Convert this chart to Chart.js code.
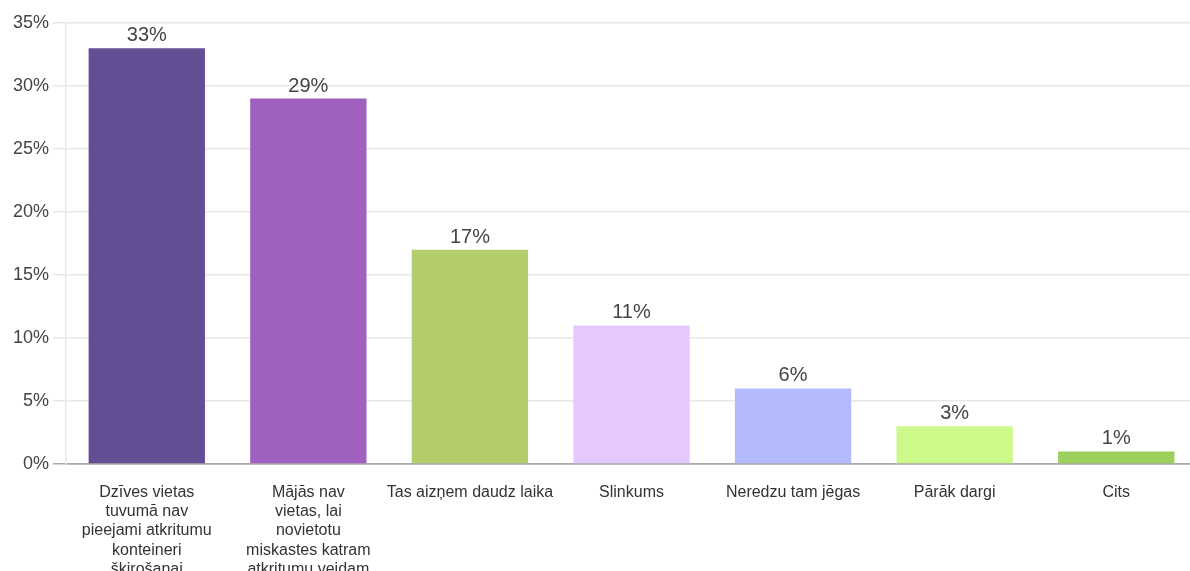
<!DOCTYPE html>
<html>
<head>
<meta charset="utf-8">
<script src="https://cdn.jsdelivr.net/npm/chart.js@4"></script>
<style>
  html, body { margin: 0; padding: 0; background: #fff; overflow: hidden; }
  #wrap { width: 1200px; height: 620px; }
</style>
</head>
<body>
<div id="wrap"><canvas id="myChart" width="1200" height="620"></canvas></div>
<script>
var categories = [
    ['Dzīves vietas', 'tuvumā nav', 'pieejami atkritumu', 'konteineri', 'šķirošanai'],
    ['Mājās nav', 'vietas, lai', 'novietotu', 'miskastes katram', 'atkritumu veidam'],
    'Tas aizņem daudz laika',
    'Slinkums',
    'Neredzu tam jēgas',
    'Pārāk dargi',
    'Cits'
];
var values = [33, 29, 17, 11, 6, 3, 1];
var barColors = ['#634e94', '#a060c0', '#b3cd6c', '#e5c8fd', '#b3bbfd', '#cdf88a', '#9ccf5b'];
var yTicks = [0, 5, 10, 15, 20, 25, 30, 35];

Chart.defaults.font.family = '"Liberation Sans", Arial, sans-serif';
Chart.defaults.color = '#444';

// percentage labels above each bar
var valueLabels = {
    id: 'valueLabels',
    afterDatasetsDraw: function (chart) {
        var ctx = chart.ctx;
        var meta = chart.getDatasetMeta(0);
        ctx.save();
        ctx.font = '20px "Liberation Sans", Arial, sans-serif';
        ctx.fillStyle = '#444';
        ctx.textAlign = 'center';
        ctx.textBaseline = 'alphabetic';
        meta.data.forEach(function (bar, i) {
            ctx.fillText(values[i] + '%', bar.x, bar.y - 7);
        });
        ctx.restore();
    }
};

var ctx = document.getElementById('myChart').getContext('2d');
var myChart = new Chart(ctx, {
    type: 'bar',
    data: {
        labels: categories,
        datasets: [{
            data: values,
            backgroundColor: barColors,
            borderColor: barColors,
            borderWidth: 0
        }]
    },
    options: {
        responsive: false,
        animation: false,
        layout: { padding: { top: 23, right: 3, left: 0, bottom: 0 } },
        plugins: {
            legend: { display: false },
            tooltip: { enabled: false }
        },
        scales: {
            x: {
                grid: { display: false },
                border: { color: '#aaa', width: 1.5 },
                ticks: {
                    padding: 11,
                    maxRotation: 0,
                    autoSkip: false,
                    font: { size: 16, lineHeight: 1.2 },
                    color: '#333'
                },
                afterFit: function (scale) { scale.height = 156; }
            },
            y: {
                min: 0,
                max: 35,
                afterBuildTicks: function (scale) {
                    scale.ticks = yTicks.map(function (v) { return { value: v }; });
                },
                grid: {
                    color: function (c) { return c.tick && c.tick.value === 0 ? '#aaa' : '#e8e8e8'; },
                    lineWidth: 1.5,
                    tickLength: 13
                },
                border: { color: '#e8e8e8', width: 1.5 },
                ticks: {
                    padding: 4,
                    font: { size: 18 },
                    color: '#444',
                    callback: function (v) { return v + '%'; }
                },
                afterFit: function (scale) { scale.width = 66; }
            }
        }
    },
    plugins: [valueLabels]
});
</script>
</body>
</html>
